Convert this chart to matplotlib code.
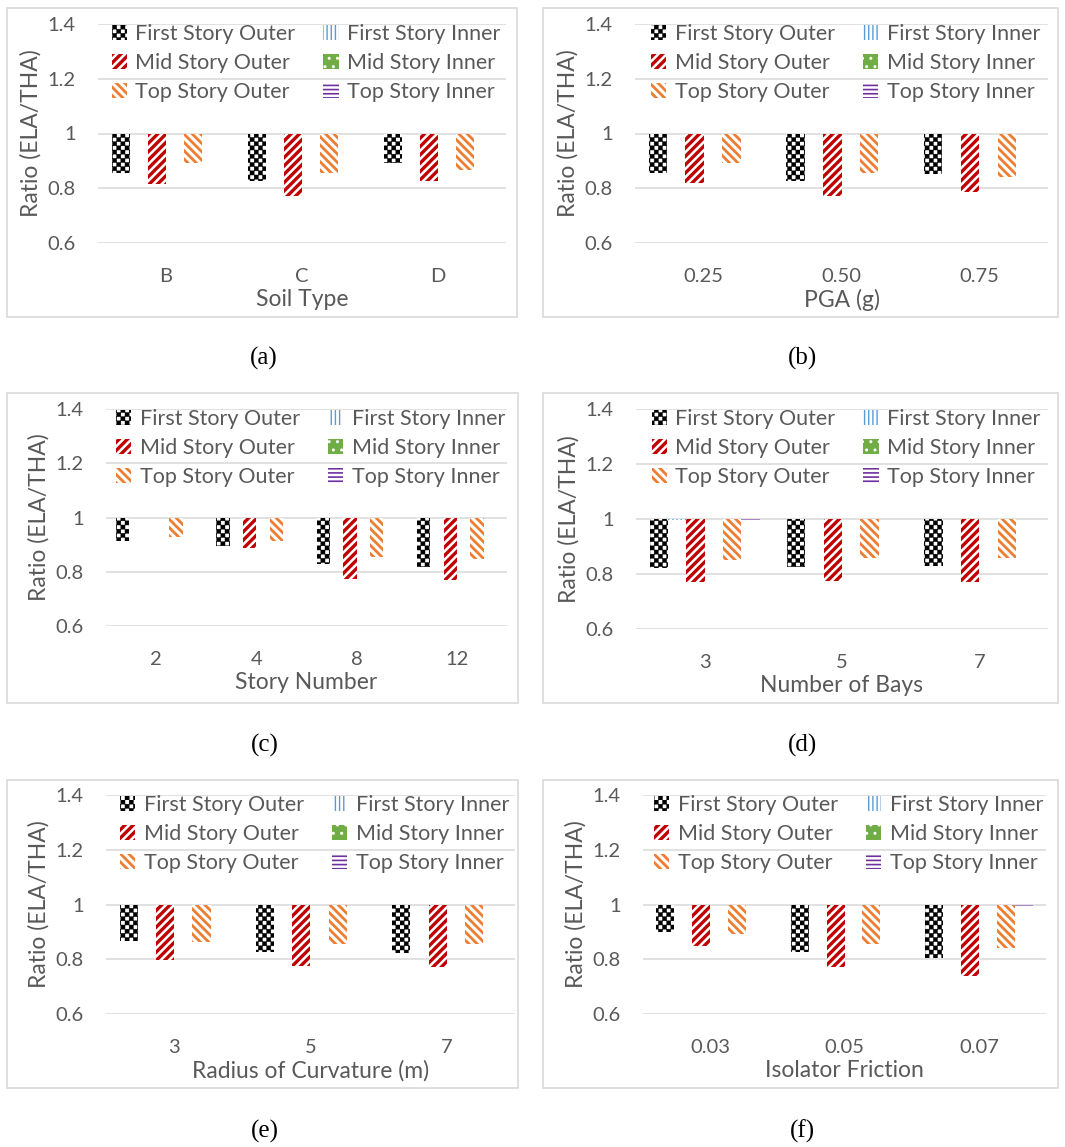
import numpy as np
import matplotlib
matplotlib.use('Agg')
import matplotlib.pyplot as plt
import matplotlib.hatch as mhatch
from matplotlib.path import Path
from matplotlib.patches import Rectangle

plt.rcParams['font.family'] = ['Lato', 'DejaVu Sans']
GREY = '#595959'


# checkerboard hatch, takes the place of the 'O' pattern
class Checker(mhatch.HatchPatternBase):
    def __init__(self, hatch, density):
        self.cells = hatch.count('O') * density
        self.num_vertices = 5 * (self.cells ** 2 // 2)

    def set_vertices_and_codes(self, vertices, codes):
        s = 1.0 / self.cells
        k = 0
        for i in range(self.cells):
            for j in range(self.cells):
                if (i + j) % 2:
                    continue
                x, y = i * s, j * s
                vertices[k:k + 5] = [(x, y), (x + s, y), (x + s, y + s), (x, y + s), (x, y)]
                codes[k:k + 5] = [Path.MOVETO, Path.LINETO, Path.LINETO, Path.LINETO, Path.CLOSEPOLY]
                k += 5


mhatch._hatch_types[mhatch._hatch_types.index(mhatch.LargeCircles)] = Checker

# ---- data ----
series = ['First Story Outer', 'First Story Inner', 'Mid Story Outer',
          'Mid Story Inner', 'Top Story Outer', 'Top Story Inner']

soil_cats = ['B', 'C', 'D']
soil_vals = [[0.854, 0.827, 0.893],   # first outer
             [1.0, 1.0, 1.0],         # first inner
             [0.815, 0.772, 0.827],   # mid outer
             [1.0, 1.0, 1.0],         # mid inner
             [0.893, 0.856, 0.868],   # top outer
             [1.0, 1.0, 1.0]]         # top inner

pga_cats = ['0.25', '0.50', '0.75']
pga_vals = [[0.855, 0.828, 0.852],
            [0.997, 0.997, 0.997],
            [0.818, 0.773, 0.788],
            [0.997, 0.997, 0.997],
            [0.891, 0.857, 0.842],
            [0.997, 0.997, 0.997]]

story_cats = ['2', '4', '8', '12']
story_vals = [[0.914, 0.894, 0.827, 0.818],
              [1.0, 1.0, 1.0, 1.0],
              [1.0, 0.886, 0.773, 0.769],
              [1.0, 1.0, 1.0, 1.0],
              [0.929, 0.914, 0.855, 0.848],
              [1.0, 1.0, 1.0, 1.0]]

bays_cats = ['3', '5', '7']
bays_vals = [[0.823, 0.827, 0.829],
             [0.998, 1.0, 1.0],
             [0.772, 0.774, 0.772],
             [1.0, 1.0, 1.0],
             [0.851, 0.857, 0.857],
             [0.996, 1.0, 1.0]]

radius_cats = ['3', '5', '7']
radius_vals = [[0.867, 0.828, 0.824],
               [1.0, 1.0, 1.0],
               [0.798, 0.776, 0.770],
               [1.0, 1.0, 1.0],
               [0.863, 0.857, 0.857],
               [0.997, 0.997, 0.997]]

fric_cats = ['0.03', '0.05', '0.07']
fric_vals = [[0.899, 0.828, 0.804],
             [0.998, 0.998, 1.0],
             [0.850, 0.773, 0.740],
             [0.998, 0.998, 1.0],
             [0.893, 0.855, 0.840],
             [0.998, 0.998, 0.995]]

# face, hatch colour, hatch, hatch linewidth
styles = [('white', 'black', 'OOOO', 0.3),
          ('white', '#5B9BD5', '||||', 1.0),
          ('white', '#C00000', '////', 2.4),
          ('#70AD47', 'white', '..', 1.0),
          ('white', '#ED7D31', '\\\\\\\\', 2.0),
          ('white', '#7030A0', '----', 1.2)]

W, H = 1065, 1147
fig = plt.figure(figsize=(W / 100, H / 100), dpi=100)

# (axes px: left, right, top, bottom), (box px: x0, x1, y0, y1), label y
panels = [
    ('(a)', 'Soil Type', soil_cats, soil_vals, (98, 506, 24, 243), (7, 517, 8, 317), 358),
    ('(b)', 'PGA (g)', pga_cats, pga_vals, (635, 1048, 24, 243), (543, 1058, 8, 317), 358),
    ('(c)', 'Story Number', story_cats, story_vals, (106, 507, 409, 626), (7, 518, 393, 703), 745),
    ('(d)', 'Number of Bays', bays_cats, bays_vals, (636, 1048, 409, 629), (543, 1058, 393, 703), 745),
    ('(e)', 'Radius of Curvature (m)', radius_cats, radius_vals, (106, 515, 795, 1014), (7, 518, 780, 1088), 1131),
    ('(f)', 'Isolator Friction', fric_cats, fric_vals, (643, 1046, 795, 1014), (543, 1058, 780, 1088), 1131),
]

for tag, xlab, cats, vals, (l, r, t, b), (x0, x1, y0, y1), ly in panels:
    fig.add_artist(Rectangle((x0 / W, 1 - y1 / H), (x1 - x0) / W, (y1 - y0) / H,
                             transform=fig.transFigure, fill=False,
                             edgecolor='#d9d9d9', linewidth=1.2))
    ax = fig.add_axes([l / W, 1 - b / H, (r - l) / W, (b - t) / H])
    x = np.arange(len(cats))
    w = 0.8 / len(series)
    handles = []
    for k, name in enumerate(series):
        face, hc, hatch, hlw = styles[k]
        v = np.array(vals[k])
        with plt.rc_context({'hatch.linewidth': hlw}):
            bc = ax.bar(x + (k - 2.5) * w, v - 1, bottom=1, width=w,
                        facecolor=face, edgecolor=hc, hatch=hatch,
                        linewidth=0, label=name, zorder=2)
        for p in bc:
            if hasattr(p, 'set_hatch_linewidth'):
                p.set_hatch_linewidth(hlw)
        handles.append(bc)
    order = [0, 2, 4, 1, 3, 5]
    leg = ax.legend([handles[i] for i in order], [series[i] for i in order],
                    ncol=2, loc='upper center', bbox_to_anchor=(0.51, 1.04),
                    frameon=False, fontsize=15.5, labelcolor=GREY,
                    handlelength=0.7, handleheight=0.7, handletextpad=0.4,
                    columnspacing=1.3, labelspacing=0.43, borderaxespad=0)
    for p, i in zip(leg.get_patches(), order):
        if hasattr(p, 'set_hatch_linewidth'):
            p.set_hatch_linewidth(styles[i][3])

    ax.set_ylim(0.6, 1.4)
    ax.set_xlim(-0.5, len(cats) - 0.5)
    ax.set_yticks([0.6, 0.8, 1.0, 1.2, 1.4])
    ax.set_yticklabels(['0.6', '0.8', '1', '1.2', '1.4'])
    ax.set_xticks(x)
    ax.set_xticklabels(cats)
    ax.tick_params(length=0, labelsize=14.5, labelcolor=GREY)
    ax.tick_params(axis='y', pad=16)
    ax.tick_params(axis='x', pad=18)
    ax.grid(axis='y', color='#d9d9d9', linewidth=1.1, zorder=0)
    ax.set_axisbelow(True)
    for s in ax.spines.values():
        s.set_visible(False)
    ax.set_xlabel(xlab, fontsize=16.5, color=GREY, labelpad=3)
    ax.set_ylabel('Ratio (ELA/THA)', fontsize=16.5, color=GREY, labelpad=4)

    fig.text((x0 + x1) / 2 / W + 0.002, 1 - ly / H, tag, ha='center', va='center',
             fontsize=18, family='Liberation Serif')

plt.savefig('out.png', dpi=100)
